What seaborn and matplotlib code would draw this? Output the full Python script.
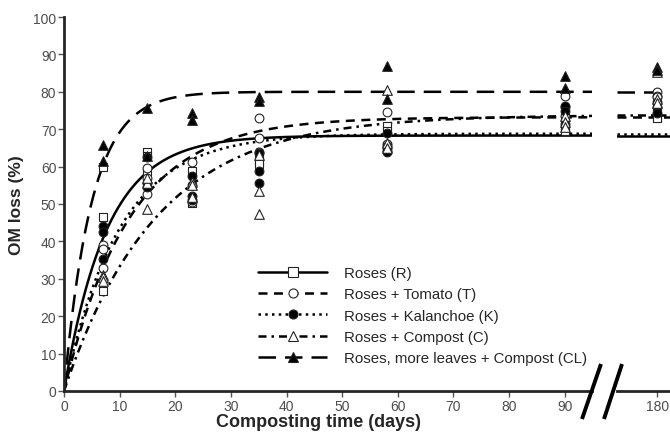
import numpy as np
import pandas as pd
import matplotlib
matplotlib.use("Agg")
import matplotlib.pyplot as plt
import seaborn as sns
from matplotlib.lines import Line2D

# ---------------- data ----------------
days = [7, 15, 23, 35, 58, 90, 180]
labels = ["Roses (R)", "Roses + Tomato (T)", "Roses + Kalanchoe (K)",
          "Roses + Compost (C)", "Roses, more leaves + Compost (CL)"]

om_R = [[59.8, 46.5, 26.8], [63.8, 62.8, 58.5], [58.8, 51.2, 50.2], [62.5, 61.2, 60.8],
        [70.8, 69.5, 65.5], [73.3, 70.0, 69.5], [75.0, 73.3, 73.0]]
om_T = [[39.0, 38.0, 33.0], [59.5, 57.0, 52.8], [61.2, 55.0, 50.5], [73.0, 67.6, 64.0],
        [74.5, 66.0, 65.5], [78.8, 76.0, 73.5], [80.0, 79.0, 78.5]]
om_K = [[44.2, 42.5, 35.2], [62.5, 55.5, 54.5], [57.6, 52.2, 51.2], [63.6, 58.7, 55.6],
        [69.0, 64.5, 63.8], [76.2, 74.8, 71.5], [77.3, 76.0, 74.2]]
om_C = [[31.0, 30.5, 29.5], [48.7, 55.5, 57.0], [56.0, 55.0, 52.0], [53.5, 47.3, 63.0],
        [80.6, 66.3, 65.0], [73.5, 72.0, 70.5], [85.2, 78.0, 77.0]]
om_CL = [[65.8, 61.6], [75.6, 62.8], [74.2, 72.4], [78.5, 77.5],
         [87.0, 78.0], [84.2, 81.0], [86.6, 85.8]]
series = [om_R, om_T, om_K, om_C, om_CL]

# first-order fitted model parameters  OM = A * (1 - exp(-k t))
fit_A = [68.3, 73.2, 68.8, 73.8, 80.0]
fit_k = [0.13, 0.085, 0.10, 0.06, 0.20]

# ---------------- styles ----------------
marker_map = ["s", "o", "o", "^", "^"]
face_map = ["white", "white", "black", "white", "black"]
dash_map = {labels[0]: "", labels[1]: (3.6, 2.6), labels[2]: (1.0, 1.7),
            labels[3]: (3.2, 2.0, 1.0, 2.0), labels[4]: (7.0, 3.6)}

rows = []
for lab, vals in zip(labels, series):
    for d, reps in zip(days, vals):
        for v in reps:
            rows.append((lab, d, v))
pts = pd.DataFrame(rows, columns=["treatment", "day", "om"])

t = np.linspace(0, 190, 2000)
crows = []
for lab, A, k in zip(labels, fit_A, fit_k):
    crows.append(pd.DataFrame({"treatment": lab, "t": t, "fit": A * (1 - np.exp(-k * t))}))
curves = pd.concat(crows, ignore_index=True)

# ---------------- figure ----------------
sns.set_style("ticks")
plt.rcParams["font.family"] = ["Liberation Sans", "DejaVu Sans"]

W, H = 670, 435
fig = plt.figure(figsize=(W / 100, H / 100), dpi=100)
y0, y1 = 392, 18
axL = fig.add_axes([64 / W, (H - y0) / H, (592 - 64) / W, (y0 - y1) / H])
axR = fig.add_axes([617 / W, (H - y0) / H, (670 - 617) / W, (y0 - y1) / H], sharey=axL)

LW = 1.8
for ax in (axL, axR):
    sns.lineplot(data=curves, x="t", y="fit", style="treatment", style_order=labels,
                 dashes=dash_map, color="black", lw=LW, ax=ax, legend=False,
                 estimator=None, sort=False)
    for lab, m, fc in zip(labels, marker_map, face_map):
        sub = pts[pts["treatment"] == lab]
        sns.scatterplot(data=sub, x="day", y="om", marker=m, s=40 if m != "^" else 48,
                        color=fc, edgecolor="#222222", linewidth=0.8, ax=ax,
                        legend=False, zorder=3)
    ax.set_xlabel("")
    ax.set_ylabel("")
    for s in ("top", "right"):
        ax.spines[s].set_visible(False)
    ax.spines["bottom"].set_linewidth(2.0)
    ax.spines["left"].set_linewidth(2.0)
    ax.tick_params(axis="both", labelsize=10, labelcolor="#4d4d4d", color="#555555",
                   length=4, width=1, pad=1.5)

axL.set_xlim(0, 94.9)
axL.set_ylim(0, 100)
axL.set_xticks(range(0, 91, 10))
axL.set_yticks(range(0, 101, 10))
axR.set_xlim(172.8, 182.3)
axR.set_xticks([180])
axR.spines["left"].set_visible(False)
axR.tick_params(axis="y", left=False, labelleft=False)

axL.set_ylabel("OM loss (%)", fontsize=12.5, fontweight="bold")
axL.yaxis.set_label_coords(-0.075, 0.5)
fig.text(318 / W, 1 - 423 / H, "Composting time (days)", fontsize=13, fontweight="bold",
         ha="center", va="center")

# axis break marks
for (xa, ya), (xb, yb) in [((582, 420), (601, 365)), ((604, 420), (622, 365))]:
    fig.add_artist(Line2D([xa / W, xb / W], [1 - ya / H, 1 - yb / H], color="black",
                          lw=2.8, transform=fig.transFigure, solid_capstyle="butt"))

# legend
handles = []
for lab, m, fc in zip(labels, marker_map, face_map):
    d = dash_map[lab]
    h = Line2D([], [], color="black", lw=LW, marker=m, markersize=6.5,
               markerfacecolor=fc, markeredgecolor="#222222", markeredgewidth=0.8)
    if d:
        h.set_dashes(d)
    handles.append(h)
fig.legend(handles=handles, labels=labels, loc="upper left",
           bbox_to_anchor=(258 / W, 1 - 267 / H), bbox_transform=fig.transFigure,
           frameon=False, fontsize=10.8, handlelength=4.6, handletextpad=1.15,
           labelspacing=0.49, borderpad=0, borderaxespad=0, numpoints=1)

fig.savefig("out.png", dpi=100)
